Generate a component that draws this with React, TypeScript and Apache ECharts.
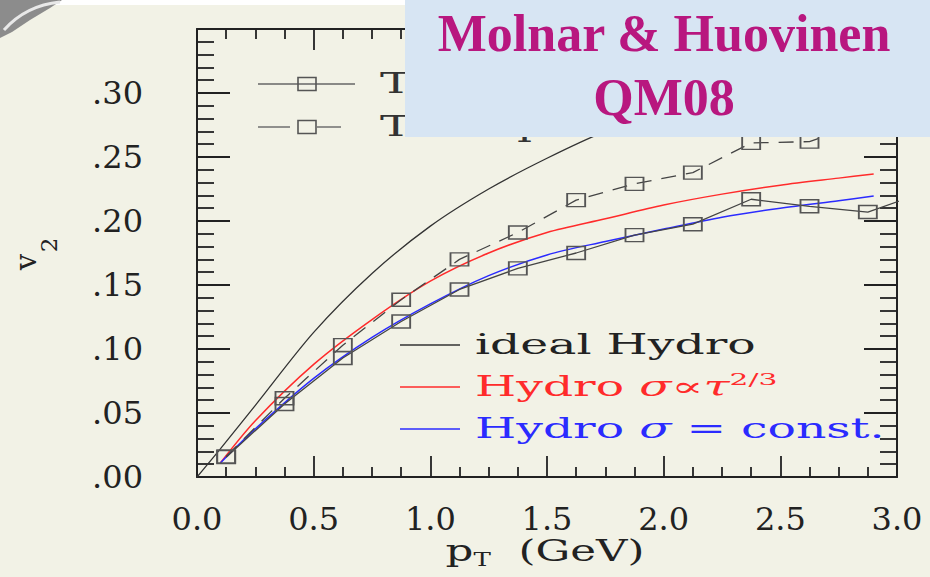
import React, { useEffect, useRef } from 'react';
import * as echarts from 'echarts';

// ---- data ----
const idealX = [0, 0.1, 0.25, 0.5, 0.75, 1.0, 1.25, 1.5, 1.75, 2.0, 2.25, 2.5, 2.75, 2.9];
const idealV = [0, 0.022, 0.056, 0.113, 0.159, 0.196, 0.225, 0.249, 0.27, 0.286, 0.298, 0.307, 0.313, 0.316];

const hydroX = [0.1, 0.25, 0.5, 0.75, 1.0, 1.25, 1.5, 1.75, 2.0, 2.25, 2.5, 2.75, 2.9];
const hydroTauV = [0.011, 0.044, 0.088, 0.123, 0.153, 0.175, 0.191, 0.2017, 0.2125, 0.221, 0.228, 0.2335, 0.2367];
const hydroConstV = [0.011, 0.0376, 0.077, 0.109, 0.1352, 0.1573, 0.1735, 0.184, 0.1937, 0.203, 0.21, 0.2159, 0.2195];

const transX = [0.125, 0.375, 0.625, 0.875, 1.125, 1.375, 1.625, 1.875, 2.125, 2.375, 2.625, 2.875, 3.125];
const transConstV = [0.0155, 0.057, 0.093, 0.1215, 0.1465, 0.163, 0.175, 0.189, 0.1975, 0.217, 0.2115, 0.207, 0.223];
const transTauV = [0.016, 0.0615, 0.103, 0.1385, 0.17, 0.191, 0.2163, 0.229, 0.2378, 0.261, 0.262, 0.278];

const xTicks = { min: 0, max: 3, interval: 0.5 };
const yTicks = { min: 0, max: 0.35, interval: 0.05 };

const zip = (xs: number[], ys: number[]) => ys.map((y, i) => [xs[i], y]);

const FONT = '"DejaVu Serif", serif';
const AX = '#222';

function buildOption() {
  const xBase = {
    type: 'value',
    min: xTicks.min,
    max: xTicks.max,
    interval: xTicks.interval,
    axisLine: { show: true, onZero: false, lineStyle: { color: AX, width: 2 } },
    axisTick: { show: true, inside: true, length: 21, lineStyle: { color: AX, width: 1.8 } },
    minorTick: { show: true, splitNumber: 4, length: 10, lineStyle: { color: AX, width: 1.8 } },
    splitLine: { show: false },
    minorSplitLine: { show: false },
  };
  const yBase = {
    type: 'value',
    min: yTicks.min,
    max: yTicks.max,
    interval: yTicks.interval,
    axisLine: { show: true, onZero: false, lineStyle: { color: AX, width: 2 } },
    axisTick: { show: true, inside: true, length: 33, lineStyle: { color: AX, width: 1.8 } },
    minorTick: { show: true, splitNumber: 5, length: 17, lineStyle: { color: AX, width: 1.8 } },
    splitLine: { show: false },
    minorSplitLine: { show: false },
  };
  const sq = {
    symbol: 'rect',
    symbolSize: [18, 13],
    showSymbol: true,
    itemStyle: { color: 'rgba(0,0,0,0)', borderColor: '#555', borderWidth: 1.6 },
  };
  const legText = (x: number, y: number, text: string, fill: string, rich?: any) => ({
    type: 'text',
    x,
    y,
    scaleX: 1.75,
    z: 50,
    style: {
      text,
      fill,
      fontFamily: FONT,
      fontSize: 27,
      align: 'left',
      verticalAlign: 'middle',
      rich,
    },
  });
  const legLine = (x1: number, x2: number, y: number, stroke: string, dash?: number[]) => ({
    type: 'line',
    z: 50,
    shape: { x1, y1: y, x2, y2: y },
    style: { stroke, lineWidth: 1.4, lineDash: dash },
  });
  const legSq = (cx: number, cy: number) => ({
    type: 'rect',
    z: 50,
    shape: { x: cx - 9, y: cy - 6.5, width: 18, height: 13 },
    style: { fill: 'none', stroke: '#555', lineWidth: 1.6 },
  });
  const greek = (fill: string) => ({
    g: { fontFamily: FONT, fontSize: 27, fontStyle: 'italic', fill },
    sup: { fontFamily: FONT, fontSize: 17, fill, padding: [0, 0, 16, 0] },
  });
  const rotText = (x: number, y: number, text: string, size: number) => ({
    type: 'text',
    x,
    y,
    rotation: Math.PI / 2,
    z: 50,
    style: {
      text,
      fill: AX,
      fontFamily: FONT,
      fontSize: size,
      align: 'center',
      verticalAlign: 'middle',
    },
  });

  return {
    animation: false,
    backgroundColor: '#F2F2E6',
    grid: { left: 197, top: 29, right: 33, bottom: 100, containLabel: false },
    xAxis: [
      {
        ...xBase,
        position: 'bottom',
        axisLabel: {
          show: true,
          margin: 26,
          color: AX,
          fontFamily: FONT,
          fontSize: 32,
          formatter: (v: number) => v.toFixed(1),
        },
      },
      { ...xBase, position: 'top', axisLabel: { show: false } },
    ],
    yAxis: [
      {
        ...yBase,
        position: 'left',
        axisLabel: {
          show: true,
          margin: 54,
          color: AX,
          fontFamily: FONT,
          fontSize: 32,
          formatter: (v: number) => (v > 0.34 ? '' : v.toFixed(2).replace(/^0/, '')),
        },
      },
      { ...yBase, position: 'right', axisLabel: { show: false } },
    ],
    series: [
      {
        name: 'ideal Hydro',
        type: 'line',
        smooth: 0.3,
        showSymbol: false,
        data: zip(idealX, idealV),
        lineStyle: { color: '#333', width: 1.3 },
        z: 3,
      },
      {
        name: 'Hydro σ∝τ^2/3',
        type: 'line',
        smooth: 0.3,
        showSymbol: false,
        data: zip(hydroX, hydroTauV),
        lineStyle: { color: '#ff2b2b', width: 1.5 },
        z: 4,
      },
      {
        name: 'Hydro σ = const.',
        type: 'line',
        smooth: 0.3,
        showSymbol: false,
        data: zip(hydroX, hydroConstV),
        lineStyle: { color: '#2b2bff', width: 1.5 },
        z: 4,
      },
      {
        name: 'Transport σ = const.',
        type: 'line',
        ...sq,
        data: zip(transX, transConstV),
        lineStyle: { color: '#444', width: 1.3 },
        z: 5,
      },
      {
        name: 'Transport σ∝τ^2/3',
        type: 'line',
        ...sq,
        data: zip(transX, transTauV),
        lineStyle: { color: '#444', width: 1.3, type: [15, 10] },
        z: 5,
      },
    ],
    graphic: [
      // white strip at the top of the slide
      { type: 'rect', z: 1, shape: { x: 0, y: 0, width: 930, height: 5 }, style: { fill: '#ffffff' } },
      // logo fragment
      {
        type: 'polygon',
        z: 2,
        shape: { points: [[0, 0], [62, 0], [50, 8], [30, 20], [12, 32], [0, 38]] },
        style: { fill: '#8c8c8c' },
      },
      {
        type: 'bezierCurve',
        z: 3,
        shape: { x1: 4, y1: 30, cpx1: 20, cpy1: 12, cpx2: 40, cpy2: 4, x2: 60, y2: 2 },
        style: { stroke: '#e8e8e8', lineWidth: 3, fill: 'none' },
      },
      // top-left legend (mostly hidden by the title box)
      legLine(258, 355, 84, '#666'),
      legSq(307, 84),
      legText(380, 84, 'Transport σ = const.', '#333'),
      legLine(258, 290, 127, '#666'),
      legLine(317, 341, 127, '#666'),
      legSq(307, 127),
      legText(380, 127, 'Transport σ∝τ', '#333'),
      // bottom legend
      legLine(400, 460, 345, '#333'),
      legText(475, 345, 'ideal Hydro', '#222'),
      legLine(400, 460, 387, '#ff2b2b'),
      legText(475, 387, 'Hydro {g|σ∝τ}{sup|2/3}', '#ff2b2b', greek('#ff2b2b')),
      legLine(400, 460, 429, '#2b2bff'),
      legText(475, 429, 'Hydro {g|σ} = const.', '#2b2bff', greek('#2b2bff')),
      // y axis title: v with subscript 2, rotated
      rotText(26, 262, 'v', 29),
      rotText(49, 245, '2', 23),
      // x axis title
      {
        type: 'text',
        x: 545,
        y: 551,
        scaleX: 1.45,
        z: 50,
        style: {
          text: '{p|p}{t|T}{p|  (GeV)}',
          align: 'center',
          verticalAlign: 'middle',
          rich: {
            p: { fontFamily: FONT, fontSize: 30, fill: AX },
            t: { fontFamily: FONT, fontSize: 18, fill: AX, padding: [18, 0, 0, 0] },
          },
        },
      },
      // title box
      {
        type: 'rect',
        z: 100,
        shape: { x: 405, y: 0, width: 525, height: 137 },
        style: { fill: '#D7E5F3' },
      },
      {
        type: 'text',
        x: 664,
        y: 33,
        z: 101,
        style: {
          text: 'Molnar & Huovinen',
          fill: '#B8177F',
          fontFamily: '"Liberation Serif", serif',
          fontWeight: 'bold',
          fontSize: 52,
          align: 'center',
          verticalAlign: 'middle',
        },
      },
      {
        type: 'text',
        x: 664,
        y: 97,
        z: 101,
        style: {
          text: 'QM08',
          fill: '#B8177F',
          fontFamily: '"Liberation Serif", serif',
          fontWeight: 'bold',
          fontSize: 52,
          align: 'center',
          verticalAlign: 'middle',
        },
      },
    ],
  };
}

export default function App() {
  const ref = useRef<HTMLDivElement>(null);
  useEffect(() => {
    if (!ref.current) return;
    const chart = echarts.init(ref.current, null, { renderer: 'svg' });
    chart.setOption(buildOption() as any);
    return () => chart.dispose();
  }, []);
  return (
    <div
      ref={ref}
      style={{ position: 'absolute', left: 0, top: 0, width: 930, height: 577 }}
    />
  );
}
